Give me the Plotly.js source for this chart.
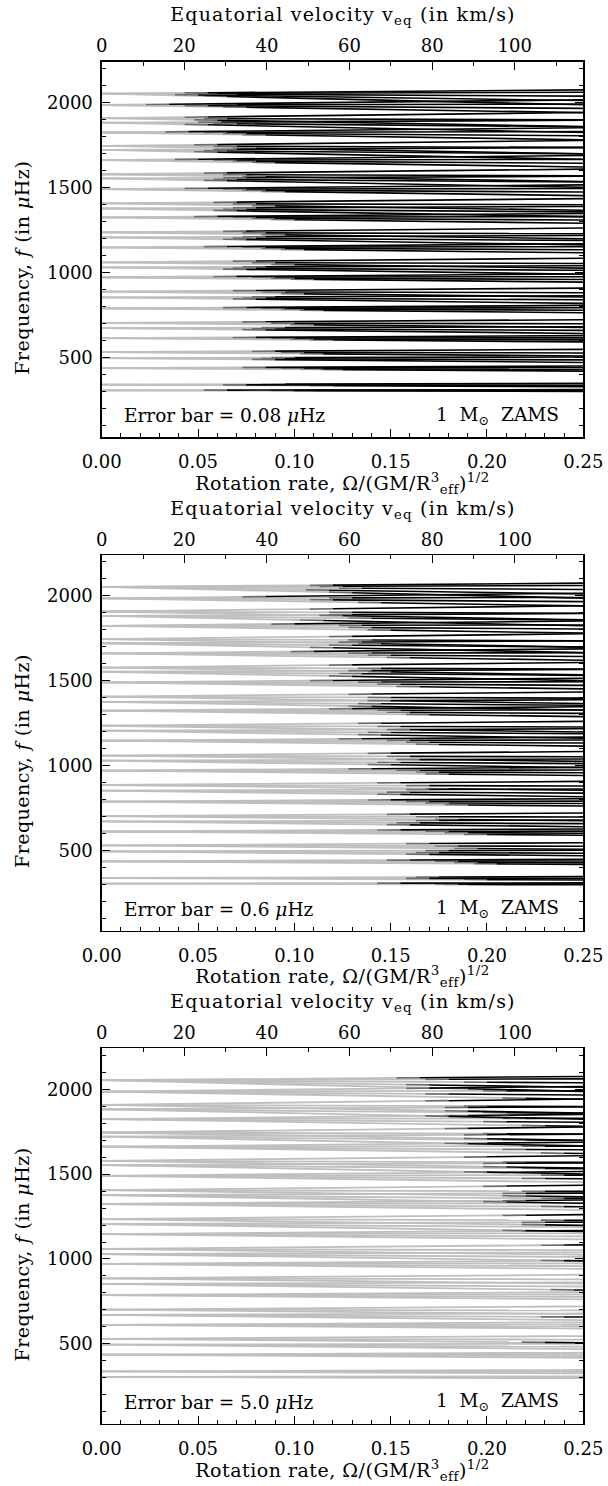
<!DOCTYPE html>
<html><head><meta charset="utf-8">
<script src="https://cdn.plot.ly/plotly-3.0.1.min.js"></script>
<style>html,body{margin:0;padding:0;background:#fff}#plot{width:608px;height:1486px}</style>
</head><body><div id="plot"></div>
<script>
// ---- data ----
// frequency (muHz) of each mode at zero rotation
const freqStart = [
 2053,2053,2053,2053,2053, 1986,1986,1986,1986, 1908,1908,1908, 1882,1882,1882,
 1824,1824,1824,1824, 1745,1745,1745, 1721,1721,1721, 1661,1661,1661,1661,
 1578,1578,1578, 1553,1553,1553, 1490,1490,1490,1490, 1406,1406,1406, 1376,1376,1376,
 1324,1324,1324,1324, 1235,1235,1235, 1206,1206,1206, 1147,1147,1147,1147,
 1059,1059,1059, 1029,1029,1029, 971,971,971,971, 886,886,886, 853,853,853,
 788,788,788,788, 702,702,702, 671,671,671, 612,612,612,612,
 530,530,530, 495,495,495, 436,436,436,436, 338,338,338, 305,305,305];
// frequency of each mode at rotation rate 0.25
const freqEnd = [
 2075,2061,2038,2012,1987, 2016,1991,1966,1941, 1942,1898,1859, 1896,1858,1824,
 1852,1829,1805,1781, 1777,1736,1699, 1735,1698,1666, 1688,1665,1643,1621,
 1608,1569,1535, 1566,1532,1501, 1515,1494,1473,1452, 1434,1398,1366, 1388,1356,1328,
 1347,1328,1308,1289, 1261,1228,1198, 1217,1188,1162, 1168,1151,1133,1115,
 1083,1052,1025, 1039,1012,989, 990,974,958,942, 907,880,855, 862,838,817,
 805,791,777,762, 721,697,675, 679,658,640, 627,614,602,590,
 546,525,507, 501,484,469, 448,438,428,418, 346,335,326, 309,303,298];
// rotation rate above which the mode is drawn black (one array per error bar)
const blackFrom008 = [
 .055,.060,.070,.050,.065, .035,.070,.055,.075, .055,.065,.060, .062,.070,.055,
 .045,.065,.075,.085, .060,.070,.080, .070,.065,.060, .050,.070,.080,.090,
 .065,.075,.085, .075,.070,.065, .055,.075,.085,.095, .070,.080,.090, .080,.075,.070,
 .060,.080,.090,.100, .075,.085,.095, .085,.080,.075, .065,.085,.095,.105,
 .080,.090,.100, .085,.080,.075, .070,.090,.100,.110, .080,.095,.105, .090,.085,.080,
 .075,.095,.105,.115, .085,.100,.110, .095,.090,.085, .080,.100,.110,.120,
 .090,.105,.115, .100,.095,.090, .085,.105,.115,.125, .095,.075,.120, .065,.100,.110];
const blackFrom06 = [
 .120,.125,.135,.118,.130, .085,.130,.120,.145, .120,.130,.125, .130,.140,.115,
 .100,.135,.140,.150, .130,.140,.145, .135,.130,.120, .110,.140,.150,.160,
 .130,.145,.150, .140,.135,.130, .120,.145,.155,.165, .140,.150,.160, .150,.145,.140,
 .130,.155,.160,.170, .145,.155,.165, .160,.150,.145, .135,.160,.170,.175,
 .150,.160,.170, .165,.155,.150, .140,.165,.175,.180, .155,.170,.180, .170,.160,.155,
 .150,.170,.180,.190, .160,.175,.185, .175,.165,.160, .155,.180,.190,.200,
 .170,.185,.195, .180,.175,.170, .160,.185,.195,.205, .175,.170,.200, .155,.185,.190];
const blackFrom50 = [
 .165,.180,.200,.170,.190, .170,.210,.180,.220, .180,.200,.190, .190,.210,.180,
 .190,.220,.210,.230, .190,.210,.200, .200,.220,.190, .200,.230,.220,.240,
 .200,.220,.210, .210,.230,.200, .210,.240,.230,.250, .210,.230,.220, .220,.240,.210,
 .220,.250,.240,.250, .220,.240,.230, .230,.250,.220, .230,.250,.250,.250,
 .240,.250,.250, .250,.250,.240, .250,.250,.250,.250, .250,.250,.250, .250,.250,.245,
 .250,.250,.250,.250, .250,.250,.250, .250,.240,.250, .250,.250,.250,.250,
 .250,.250,.230, .250,.250,.250, .250,.250,.250,.250, .250,.250,.250, .250,.250,.250];
const rotMax = 0.25;              // last computed rotation rate
const velMax = 116.6;             // equatorial velocity at rotMax (km/s)
const errorBars = ['0.08', '0.6', '5.0'];
const blackFrom = [blackFrom008, blackFrom06, blackFrom50];
const velTicks = [0, 20, 40, 60, 80, 100];
const fadeWidth = 0.012;          // short dark-grey stretch before a mode turns black

// ---- geometry ----
const W = 608, H = 1486;
const py = v => 1 - v / H;
const xDom = [101.7 / W, 583.3 / W];
const panels = [{t: 61.7, b: 437.3}, {t: 555, b: 930.6}, {t: 1048.3, b: 1424}];
const FONT = 'DejaVu Serif';
const tickFont = {family: FONT, size: 18, color: '#000'};
const titleFont = {family: FONT, size: 19, color: '#000'};
const noteFont = {family: FONT, size: 18.5, color: '#000'};

const traces = [];
const layout = {
  width: W, height: H, margin: {l: 0, r: 0, t: 0, b: 0},
  paper_bgcolor: '#fff', plot_bgcolor: '#fff', showlegend: false,
  annotations: []
};

panels.forEach((p, k) => {
  const xb = 'x' + (k === 0 ? '' : (2 * k + 1));
  const xt = 'x' + (2 * k + 2);
  const yy = 'y' + (k === 0 ? '' : (k + 1));
  const gx = [], gy = [], dx = [], dy = [], bx = [], by = [];
  const on = blackFrom[k];
  const at = (i, r) => freqStart[i] + (freqEnd[i] - freqStart[i]) * r / rotMax;
  for (let i = 0; i < freqStart.length; i++) {
    const o = Math.min(on[i], rotMax);
    const g = Math.max(0, o - fadeWidth);
    gx.push(0, g, null); gy.push(freqStart[i], at(i, g), null);
    if (o < rotMax) {
      dx.push(g, o, null); dy.push(at(i, g), at(i, o), null);
      bx.push(o, rotMax, null); by.push(at(i, o), freqEnd[i], null);
    } else {
      gx.push(g, rotMax, null); gy.push(at(i, g), freqEnd[i], null);
    }
  }
  traces.push({type: 'scatter', mode: 'lines', x: gx, y: gy, xaxis: xb, yaxis: yy,
    line: {color: '#bfbfbf', width: 1.8}, hoverinfo: 'skip'});
  traces.push({type: 'scatter', mode: 'lines', x: dx, y: dy, xaxis: xb, yaxis: yy,
    line: {color: '#6e6e6e', width: 1.7}, hoverinfo: 'skip'});
  traces.push({type: 'scatter', mode: 'lines', x: bx, y: by, xaxis: xb, yaxis: yy,
    line: {color: '#000', width: 1.6}, hoverinfo: 'skip'});
  // empty trace so the top (velocity) axis is drawn
  traces.push({type: 'scatter', mode: 'lines', x: [0, velMax], y: [null, null],
    xaxis: xt, yaxis: yy, hoverinfo: 'skip'});

  const dom = [py(p.b), py(p.t)];
  const common = {ticks: 'inside', tickcolor: '#000', tickwidth: 1, ticklen: 8,
    showline: true, linecolor: '#000', linewidth: 1.3, showgrid: false, zeroline: false,
    tickfont: tickFont, fixedrange: true};
  layout[(k === 0 ? 'xaxis' : 'xaxis' + (2 * k + 1))] = Object.assign({}, common, {
    domain: xDom, range: [0, rotMax], anchor: yy, tickmode: 'linear', tick0: 0, dtick: 0.05,
    tickformat: '.2f', mirror: false, ticklabelstandoff: 8,
    minor: {dtick: 0.01, ticks: 'inside', ticklen: 4, tickcolor: '#000', showgrid: false}});
  layout['xaxis' + (2 * k + 2)] = Object.assign({}, common, {
    domain: xDom, range: [0, velMax], anchor: yy, overlaying: xb, side: 'top',
    tickmode: 'array', tickvals: velTicks, mirror: false, ticklabelstandoff: 1,
    minor: {tickmode: 'linear', tick0: 0, dtick: 10, ticks: 'inside', ticklen: 4, tickcolor: '#000', showgrid: false}});
  layout[(k === 0 ? 'yaxis' : 'yaxis' + (k + 1))] = Object.assign({}, common, {
    domain: dom, range: [28, 2241], anchor: xb, tickmode: 'linear', tick0: 0, dtick: 500,
    mirror: 'ticks', ticklabelstandoff: 4,
    minor: {dtick: 100, ticks: 'inside', ticklen: 4, tickcolor: '#000', showgrid: false}});

  const A = layout.annotations;
  const base = {xref: 'paper', yref: 'paper', showarrow: false, yanchor: 'middle'};
  A.push(Object.assign({}, base, {x: 342.5 / W, y: py(p.t - 46), xanchor: 'center', font: titleFont,
    text: 'Equatorial velocity v<sub>eq</sub> (in km/s)'}));
  A.push(Object.assign({}, base, {x: 342.5 / W, y: py(p.b + 46), xanchor: 'center', font: titleFont,
    text: 'Rotation rate, Ω/(GM/R<sup>3</sup><sub>eff</sub>)<sup>1/2</sup>'}));
  A.push(Object.assign({}, base, {x: 22 / W, y: py((p.t + p.b) / 2 + 18), xanchor: 'center', font: titleFont,
    textangle: -90, text: 'Frequency, <i>f</i> (in <i>μ</i>Hz)'}));
  A.push(Object.assign({}, base, {x: 121.7 / W, y: py(p.b - 21.6), xanchor: 'left', font: noteFont,
    text: 'Error bar = ' + errorBars[k] + ' <i>μ</i>Hz'}));
  A.push(Object.assign({}, base, {x: 561 / W, y: py(p.b - 21.6), xanchor: 'right', font: noteFont,
    text: '1  M<sub>⊙</sub>  ZAMS'}));
});

Plotly.newPlot('plot', traces, layout, {staticPlot: true, displayModeBar: false}).then(gd => {
  // the reference title is set with wide letter spacing
  gd.querySelectorAll('.annotation-text').forEach(t => {
    const s = t.textContent;
    if (s.indexOf('Equatorial') === 0) t.style.letterSpacing = '1.2px';
    else if (s.indexOf('Rotation') === 0 || s.indexOf('Frequency') === 0) t.style.letterSpacing = '0.5px';
  });
});
</script></body></html>
